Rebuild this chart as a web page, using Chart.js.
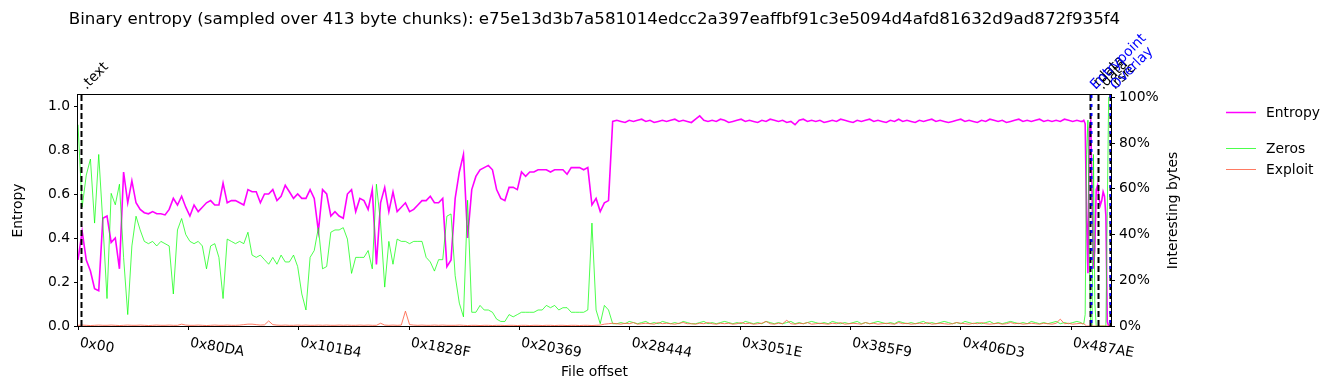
<!DOCTYPE html>
<html>
<head>
<meta charset="utf-8">
<script src="https://cdn.jsdelivr.net/npm/chart.js@4/dist/chart.umd.min.js"></script>
<style>
  html, body { margin: 0; padding: 0; background: #ffffff; }
  canvas { display: block; }
</style>
</head>
<body>
<canvas id="c" width="1335" height="390"></canvas>
<script>
// ---------------- data ----------------
const CHUNK = 413;                 // bytes per sample chunk
const MAIN_STEP_CHUNKS = 3;        // main arrays: one value every 3 chunks
const TAIL_START_CHUNK = 727;      // tail arrays: one value per chunk from here

const xTickLabels = ['0x00', '0x80DA', '0x101B4', '0x1828F', '0x20369', '0x28444', '0x3051E', '0x385F9', '0x406D3', '0x487AE'];
const leftTicks = [0, 0.2, 0.4, 0.6, 0.8, 1.0];
const rightTicks = [0, 0.2, 0.4, 0.6, 0.8, 1.0];

const entropyMain = [
  0.30,0.43,0.30,0.25,0.17,0.16,0.49,0.50,0.38,0.40,0.26,0.70,0.56,
  0.66,0.56,0.53,0.515,0.51,0.52,0.51,0.51,0.505,0.53,0.58,0.55,0.59,
  0.54,0.50,0.55,0.52,0.54,0.56,0.57,0.55,0.55,0.65,0.56,0.57,0.57,
  0.56,0.55,0.62,0.61,0.61,0.56,0.60,0.60,0.62,0.57,0.59,0.64,0.61,
  0.58,0.60,0.58,0.58,0.62,0.58,0.43,0.62,0.60,0.50,0.52,0.50,0.49,
  0.60,0.62,0.52,0.58,0.57,0.53,0.62,0.28,0.56,0.63,0.52,0.61,0.52,
  0.54,0.56,0.52,0.53,0.55,0.57,0.57,0.59,0.56,0.56,0.58,0.27,0.30,
  0.58,0.70,0.78,0.40,0.62,0.68,0.71,0.72,0.73,0.71,0.62,0.58,0.57,
  0.63,0.63,0.62,0.70,0.68,0.70,0.70,0.71,0.71,0.71,0.70,0.71,0.71,
  0.71,0.69,0.72,0.72,0.72,0.71,0.72,0.55,0.58,0.52,0.56,0.57,0.93,
  0.935,0.93,0.925,0.935,0.93,0.935,0.94,0.93,0.935,0.925,0.93,0.935,0.93,
  0.935,0.94,0.93,0.935,0.93,0.925,0.94,0.955,0.935,0.93,0.935,0.93,0.94,
  0.935,0.925,0.93,0.935,0.94,0.93,0.935,0.93,0.925,0.935,0.93,0.94,0.935,
  0.93,0.935,0.925,0.93,0.915,0.935,0.94,0.93,0.935,0.93,0.935,0.925,0.93,
  0.935,0.93,0.94,0.935,0.93,0.925,0.935,0.93,0.935,0.94,0.93,0.935,0.93,
  0.925,0.935,0.93,0.94,0.93,0.935,0.93,0.925,0.935,0.93,0.935,0.94,0.93,
  0.935,0.93,0.925,0.93,0.935,0.94,0.93,0.935,0.93,0.925,0.935,0.93,0.94,
  0.935,0.93,0.935,0.925,0.93,0.935,0.94,0.93,0.935,0.93,0.935,0.94,0.93,
  0.935,0.93,0.935,0.93,0.94,0.935,0.93,0.935,0.93
];
const zerosMain = [
  0.88,0.52,0.66,0.73,0.45,0.75,0.45,0.12,0.58,0.53,0.62,0.30,0.05,
  0.35,0.48,0.42,0.37,0.36,0.37,0.35,0.37,0.36,0.35,0.14,0.42,0.47,
  0.40,0.37,0.36,0.37,0.35,0.25,0.35,0.36,0.30,0.12,0.38,0.37,0.36,
  0.37,0.36,0.41,0.31,0.30,0.31,0.29,0.27,0.30,0.27,0.31,0.28,0.28,
  0.31,0.26,0.14,0.07,0.30,0.33,0.43,0.25,0.26,0.41,0.42,0.42,0.43,
  0.38,0.23,0.30,0.30,0.30,0.33,0.25,0.62,0.45,0.17,0.37,0.27,0.38,
  0.37,0.37,0.36,0.37,0.37,0.37,0.30,0.28,0.24,0.29,0.29,0.48,0.49,
  0.22,0.10,0.04,0.55,0.06,0.06,0.09,0.07,0.07,0.06,0.03,0.02,0.02,
  0.05,0.04,0.05,0.06,0.06,0.06,0.06,0.07,0.07,0.09,0.08,0.09,0.07,
  0.08,0.08,0.06,0.06,0.06,0.06,0.07,0.45,0.07,0.01,0.09,0.07,0.01,
  0.01,0.015,0.01,0.02,0.015,0.01,0.015,0.02,0.01,0.015,0.01,0.02,0.015,
  0.01,0.015,0.01,0.02,0.015,0.01,0.01,0.015,0.02,0.01,0.015,0.01,0.015,
  0.02,0.015,0.01,0.015,0.01,0.02,0.015,0.01,0.015,0.01,0.02,0.015,0.01,
  0.015,0.01,0.015,0.02,0.01,0.015,0.01,0.015,0.02,0.015,0.01,0.015,0.01,
  0.02,0.015,0.01,0.015,0.01,0.015,0.02,0.01,0.015,0.01,0.015,0.02,0.015,
  0.01,0.015,0.01,0.02,0.015,0.01,0.015,0.01,0.015,0.02,0.01,0.015,0.01,
  0.015,0.02,0.015,0.01,0.015,0.01,0.02,0.015,0.01,0.015,0.01,0.015,0.02,
  0.01,0.015,0.01,0.015,0.02,0.015,0.01,0.015,0.01,0.02,0.015,0.01,0.015,
  0.01,0.015,0.02,0.01,0.015,0.01,0.015,0.02,0.015
];
const exploitMain = [
  0.003,0.004,0.003,0.002,0.003,0.004,0.003,0.003,0.004,0.003,0.002,0.003,0.004,
  0.003,0.003,0.004,0.003,0.002,0.003,0.004,0.003,0.003,0.004,0.003,0.003,0.008,
  0.004,0.003,0.003,0.004,0.003,0.002,0.003,0.004,0.003,0.003,0.004,0.003,0.003,
  0.004,0.006,0.008,0.008,0.006,0.004,0.005,0.022,0.006,0.004,0.003,0.004,0.003,
  0.003,0.004,0.003,0.004,0.003,0.003,0.004,0.003,0.004,0.003,0.003,0.004,0.003,
  0.004,0.003,0.003,0.004,0.003,0.004,0.003,0.003,0.012,0.004,0.003,0.004,0.003,
  0.004,0.065,0.006,0.004,0.003,0.004,0.003,0.003,0.004,0.003,0.004,0.003,0.003,
  0.003,0.004,0.003,0.002,0.003,0.003,0.002,0.003,0.003,0.002,0.003,0.003,0.002,
  0.003,0.003,0.002,0.003,0.003,0.002,0.003,0.003,0.002,0.003,0.003,0.002,0.003,
  0.003,0.002,0.003,0.003,0.002,0.003,0.003,0.002,0.003,0.004,0.008,0.01,0.012,
  0.01,0.008,0.012,0.01,0.015,0.008,0.01,0.012,0.01,0.008,0.015,0.01,0.012,
  0.01,0.008,0.012,0.015,0.01,0.01,0.008,0.012,0.01,0.015,0.01,0.008,0.012,
  0.01,0.012,0.008,0.01,0.015,0.01,0.012,0.008,0.01,0.012,0.02,0.01,0.008,
  0.012,0.01,0.025,0.01,0.008,0.012,0.01,0.015,0.008,0.01,0.012,0.01,0.008,
  0.012,0.01,0.015,0.008,0.01,0.012,0.01,0.008,0.015,0.01,0.012,0.008,0.01,
  0.012,0.01,0.008,0.015,0.01,0.012,0.008,0.01,0.012,0.01,0.015,0.008,0.01,
  0.012,0.01,0.008,0.01,0.015,0.012,0.01,0.008,0.012,0.01,0.015,0.01,0.008,
  0.01,0.012,0.008,0.01,0.015,0.01,0.012,0.008,0.01,0.012,0.01,0.008,0.012,
  0.01,0.008,0.012,0.03,0.01,0.012,0.008,0.01,0.012
];
const entropyTail = [0.93,0.935,0.92,0.50,0.24,0.90,0.93,0.60,0.26,0.35,0.62,0.64,0.58,0.55,0.57,0.61,0.59,0.50,0.02,0.0,0.0];
const zerosTail   = [0.01,0.01,0.05,0.75,0.90,0.30,0.0,0.0,0.75,0.10,0.0,0.0,0.0,0.0,0.0,0.0,0.0,0.0,0.50,1.0,1.0];
const exploitTail = [0.01,0.01,0.005,0,0,0,0,0,0,0,0,0,0,0,0,0,0,0,0,0,0];

const sectionNames   = ['.text', '.rdata', '.data', '.rsrc'];
const sectionOffsets = [0x400, 302650, 304950, 308420];
const markerNames    = ['Entrypoint', 'Overlay'];
const markerOffsets  = [302700, 308650];

const X_MAX = 308800;
const TITLE = 'Binary entropy (sampled over 413 byte chunks): e75e13d3b7a581014edcc2a397eaffbf91c3e5094d4afd81632d9ad872f935f4';

// ---------------- build points ----------------
function buildPoints(main, tail) {
  const pts = main.map((v, i) => ({ x: i * MAIN_STEP_CHUNKS * CHUNK, y: v }));
  tail.forEach((v, j) => pts.push({ x: (TAIL_START_CHUNK + j) * CHUNK, y: v }));
  return pts;
}

const FONT = '"DejaVu Sans", "Liberation Sans", sans-serif';
const FS = 13.89;

const COL_ENT = '#ff00ff';
const COL_ZER = 'rgba(0,255,0,0.7)';
const COL_EXP = 'rgba(255,99,71,0.85)';

const overlay = {
  id: 'overlay',
  afterDatasetsDraw(chart) {
    const ctx = chart.ctx;
    const a = chart.chartArea;
    const xs = chart.scales.x;
    ctx.save();
    ctx.lineWidth = 2;
    sectionOffsets.forEach((off) => {
      const px = Math.round(xs.getPixelForValue(off)) + 0.5;
      ctx.strokeStyle = '#000000';
      ctx.setLineDash([6, 3]);
      ctx.beginPath(); ctx.moveTo(px, a.top); ctx.lineTo(px, a.bottom); ctx.stroke();
    });
    markerOffsets.forEach((off) => {
      const px = Math.round(xs.getPixelForValue(off)) + 0.5;
      ctx.strokeStyle = '#0000ff';
      ctx.setLineDash([3, 6]);
      ctx.beginPath(); ctx.moveTo(px, a.top); ctx.lineTo(px, a.bottom); ctx.stroke();
    });
    ctx.setLineDash([]);
    ctx.strokeStyle = '#000000';
    ctx.lineWidth = 1;
    ctx.strokeRect(a.left - 0.5, a.top - 0.5, a.right - a.left + 1, a.bottom - a.top + 1);
    ctx.restore();
  },
  afterDraw(chart) {
    const ctx = chart.ctx;
    const a = chart.chartArea;
    const xs = chart.scales.x;
    ctx.save();
    ctx.fillStyle = '#000000';
    ctx.font = FS + 'px ' + FONT;

    const drawRot = (txt, off, color) => {
      const px = xs.getPixelForValue(off);
      ctx.save();
      ctx.translate(px + 5, a.top - 5);
      ctx.rotate(-Math.PI / 4);
      ctx.fillStyle = color;
      ctx.textAlign = 'left';
      ctx.textBaseline = 'alphabetic';
      ctx.fillText(txt, 0, 0);
      ctx.restore();
    };
    sectionNames.forEach((n, i) => drawRot(n, sectionOffsets[i], '#000000'));
    markerNames.forEach((n, i) => drawRot(n, markerOffsets[i], '#0000ff'));

    xTickLabels.forEach((lab) => {
      const px = xs.getPixelForValue(parseInt(lab, 16));
      ctx.save();
      ctx.translate(px + 3, a.bottom + 10);
      ctx.rotate(10 * Math.PI / 180);
      ctx.textAlign = 'left';
      ctx.textBaseline = 'top';
      ctx.fillText(lab, 0, 0);
      ctx.restore();
    });

    ctx.textAlign = 'center';
    ctx.textBaseline = 'alphabetic';
    ctx.fillText('File offset', (a.left + a.right) / 2, 376);
    const vcenter = (a.top + a.bottom) / 2;
    ctx.save();
    ctx.translate(22, vcenter);
    ctx.rotate(-Math.PI / 2);
    ctx.fillText('Entropy', 0, 0);
    ctx.restore();
    ctx.save();
    ctx.translate(1177, vcenter);
    ctx.rotate(-Math.PI / 2);
    ctx.fillText('Interesting bytes', 0, 0);
    ctx.restore();

    ctx.font = '16.67px ' + FONT;
    ctx.fillText(TITLE, (a.left + a.right) / 2, 24);

    ctx.font = FS + 'px ' + FONT;
    ctx.textAlign = 'left';
    ctx.textBaseline = 'middle';
    const leg = [
      ['Entropy', COL_ENT, 1.5, 112],
      ['Zeros', COL_ZER, 1, 148],
      ['Exploit', COL_EXP, 1, 169]
    ];
    leg.forEach(([name, col, lw, y]) => {
      ctx.strokeStyle = col;
      ctx.lineWidth = lw;
      ctx.beginPath(); ctx.moveTo(1226, y + 0.5); ctx.lineTo(1256, y + 0.5); ctx.stroke();
      ctx.fillStyle = '#000000';
      ctx.fillText(name, 1266, y + 1);
    });
    ctx.restore();
  }
};

new Chart(document.getElementById('c'), {
  type: 'line',
  data: {
    datasets: [
      { label: 'Entropy', data: buildPoints(entropyMain, entropyTail), yAxisID: 'y',
        borderColor: COL_ENT, borderWidth: 1.6, pointRadius: 0, tension: 0, order: 3 },
      { label: 'Zeros', data: buildPoints(zerosMain, zerosTail), yAxisID: 'y1',
        borderColor: COL_ZER, borderWidth: 1, pointRadius: 0, tension: 0, order: 2 },
      { label: 'Exploit', data: buildPoints(exploitMain, exploitTail), yAxisID: 'y1',
        borderColor: COL_EXP, borderWidth: 1, pointRadius: 0, tension: 0, order: 1 }
    ]
  },
  options: {
    responsive: false,
    devicePixelRatio: 1,
    animation: false,
    events: [],
    layout: { padding: { top: 95, left: 0, right: 0, bottom: 0 } },
    plugins: { legend: { display: false }, tooltip: { enabled: false }, title: { display: false } },
    scales: {
      x: {
        type: 'linear', position: 'bottom', min: 0, max: X_MAX,
        afterBuildTicks: (s) => { s.ticks = xTickLabels.map((l) => ({ value: parseInt(l, 16) })); },
        afterFit: (s) => { s.height = 64; },
        ticks: { display: false, autoSkip: false },
        grid: { drawOnChartArea: false, drawTicks: true, tickLength: 4, color: '#000000', lineWidth: 1 },
        border: { display: false }
      },
      y: {
        type: 'linear', position: 'left', min: 0, max: 1.05,
        afterBuildTicks: (s) => { s.ticks = leftTicks.map((v) => ({ value: v })); },
        afterFit: (s) => { s.width = 78; },
        ticks: { color: '#000000', padding: 4, font: { family: FONT, size: FS },
                 callback: (v) => Number(v).toFixed(1) },
        grid: { drawOnChartArea: false, drawTicks: true, tickLength: 4, color: '#000000', lineWidth: 1 },
        border: { display: false }
      },
      y1: {
        type: 'linear', position: 'right', min: 0, max: 1.01,
        afterBuildTicks: (s) => { s.ticks = rightTicks.map((v) => ({ value: v })); },
        afterFit: (s) => { s.width = 224; },
        ticks: { color: '#000000', padding: 4, font: { family: FONT, size: FS },
                 callback: (v) => Math.round(v * 100) + '%' },
        grid: { drawOnChartArea: false, drawTicks: true, tickLength: 4, color: '#000000', lineWidth: 1 },
        border: { display: false }
      }
    }
  },
  plugins: [overlay]
});
</script>
</body>
</html>
